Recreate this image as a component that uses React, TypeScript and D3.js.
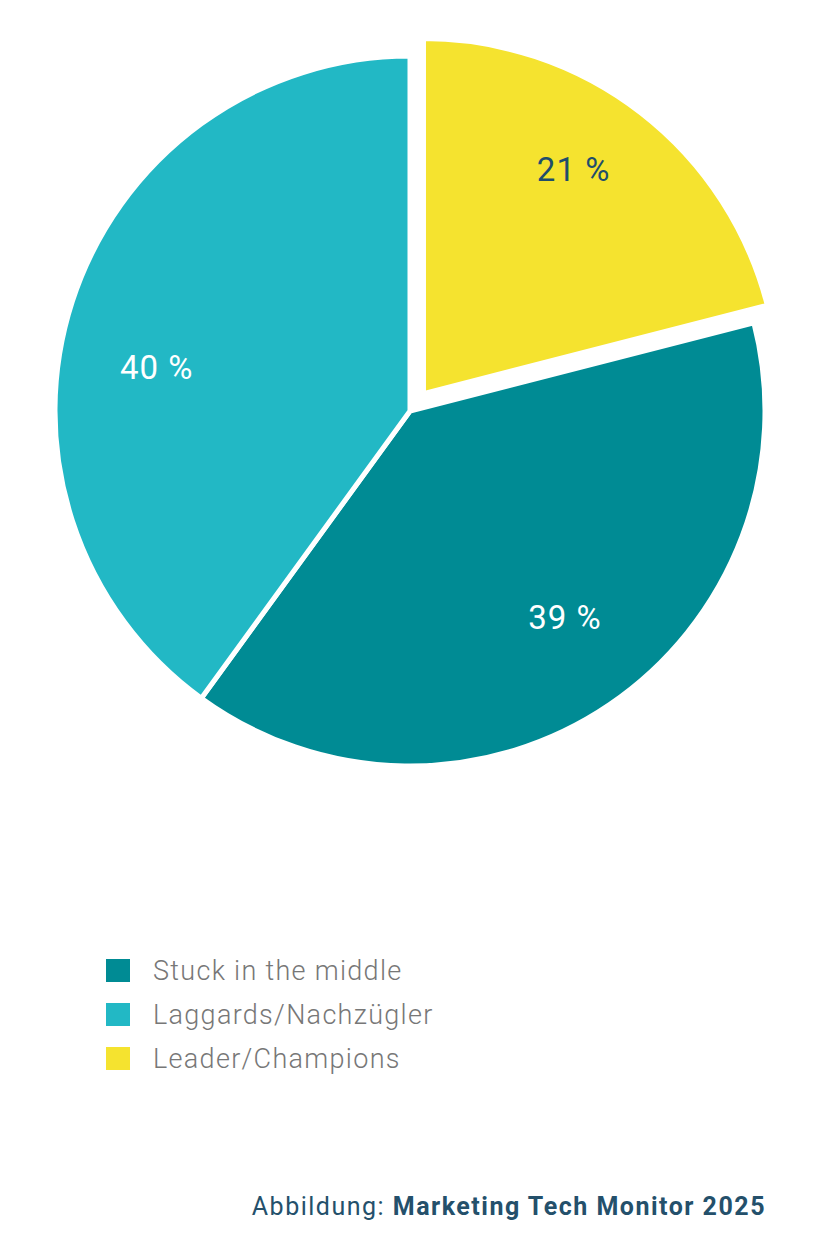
import React from "react";
import * as d3 from "d3";

const categories = ["Leader/Champions", "Stuck in the middle", "Laggards/Nachzügler"];
const values = [21, 39, 40];
const labels = ["21 %", "39 %", "40 %"];
const colors = ["#f5e32f", "#008b94", "#22b8c5"];
const labelColors = ["#1f4e6b", "#ffffff", "#ffffff"];
const explode = [22, 0, 0];
const legendOrder = ["Stuck in the middle", "Laggards/Nachzügler", "Leader/Champions"];

export default function App() {
  const W = 820, H = 1257;
  const cx = 410, cy = 411, R = 355;
  const pie = d3.pie<number>().sort(null).value((d) => d)(values);
  const arc = d3.arc<d3.PieArcDatum<number>>().innerRadius(0).outerRadius(R);
  const nudge = [[-8, -20], [10, -7], [-8, 36]];
  const labelR = 258;
  return (
    <svg width={W} height={H} style={{ position: "absolute", left: 0, top: 0, background: "#fff" }}>
      <g transform={`translate(${cx},${cy})`}>
        {pie.map((p, i) => {
          const mid = (p.startAngle + p.endAngle) / 2;
          const ox = Math.sin(mid) * explode[i];
          const oy = -Math.cos(mid) * explode[i];
          const lx = Math.sin(mid) * labelR + nudge[i][0];
          const ly = -Math.cos(mid) * labelR + nudge[i][1];
          return (
            <g key={i} transform={`translate(${ox},${oy})`}>
              <path d={arc(p) || ""} fill={colors[i]} stroke="#fff" strokeWidth={5} strokeLinejoin="miter" />
              <text x={lx} y={ly} textAnchor="middle" dominantBaseline="central"
                fontFamily="Roboto, sans-serif" fontSize={33} letterSpacing={1} fill={labelColors[i]}>{labels[i]}</text>
            </g>
          );
        })}
      </g>
      <g>
        {legendOrder.map((c, j) => {
          const i = categories.indexOf(c);
          return (
            <g key={c} transform={`translate(106,${959 + j * 44})`}>
              <rect width={24} height={23} fill={colors[i]} />
              <text x={47} y={21} fontFamily="Roboto, sans-serif" fontWeight={300} fontSize={27} letterSpacing={1.3} fill="#777777">{c}</text>
            </g>
          );
        })}
      </g>
      <text x={766} y={1215} textAnchor="end" fontFamily="Roboto, sans-serif" fontSize={25} letterSpacing={1.5} fill="#24506b">
        <tspan>Abbildung: </tspan>
        <tspan fontWeight={700}>Marketing Tech Monitor 2025</tspan>
      </text>
    </svg>
  );
}
